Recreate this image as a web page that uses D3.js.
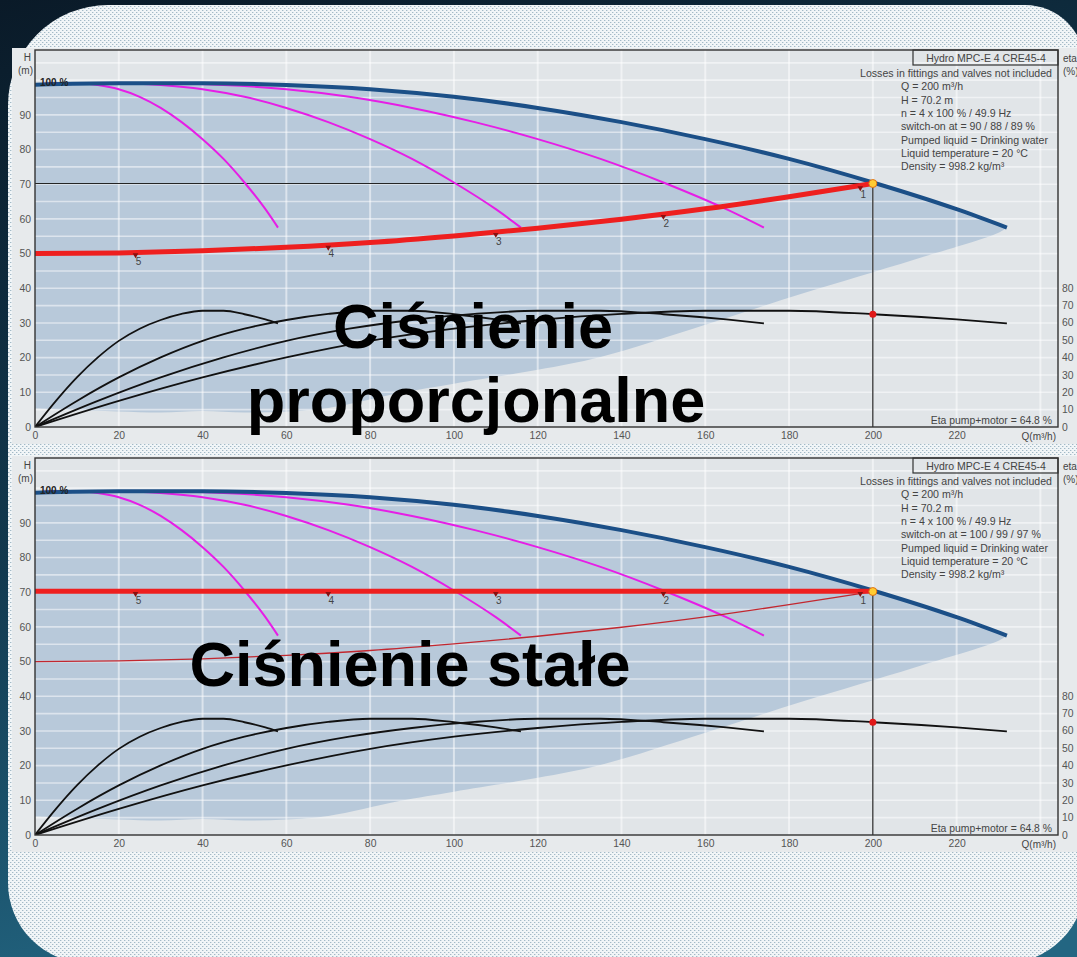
<!DOCTYPE html>
<html><head><meta charset="utf-8">
<script src="https://cdn.jsdelivr.net/npm/d3@7"></script>
<style>html,body{margin:0;padding:0;background:#0b1c2b;overflow:hidden}</style>
</head><body>
<svg id="c" width="1077" height="957" xmlns="http://www.w3.org/2000/svg"></svg>
<script>
// ---------- data ----------
const qTicks = [0,20,40,60,80,100,120,140,160,180,200,220];
const hTicks = [0,10,20,30,40,50,60,70,80,90];
const etaTicks = [0,10,20,30,40,50,60,70,80];
const hGrid = [5,10,15,20,25,30,35,40,45,50,55,60,65,70,75,80,85,90,95,100,105];
const qGrid = [20,40,60,80,100,120,140,160,180,200,220,240];

// pump curves, 4 / 3 / 2 / 1 pumps at 100 %
const q4 = [0,20,40,60,80,100,120,140,160,180,200,220,232];
const h4 = [98.7,99.1,99.1,98.6,97.4,95.2,92,87.9,83,77.3,70.5,62.8,57.5];
const q3 = [0,15,30,45,60,75,90,105,120,135,150,165,174];
const h3 = [98.7,99.1,99.1,98.6,97.4,95.2,92,87.9,83,77.3,70.5,62.8,57.5];
const q2 = [0,10,20,30,40,50,60,70,80,90,100,110,116];
const h2 = [98.7,99.1,99.1,98.6,97.4,95.2,92,87.9,83,77.3,70.5,62.8,57.5];
const q1 = [0,5,10,15,20,25,30,35,40,45,50,55,58];
const h1 = [98.7,99.1,99.1,98.6,97.4,95.2,92,87.9,83,77.3,70.5,62.8,57.5];

// efficiency curves (eta %, right axis)
const e1 = [0,15,28.5,40,49.5,56.5,61.5,65,66.8,66.8,64.8,61.8,59.5];
const e2 = [0,15,28.5,40,49.5,56.5,61.5,65,66.8,66.8,64.8,61.8,59.5];
const e3 = [0,15,28.5,40,49.5,56.5,61.5,65,66.8,66.8,64.8,61.8,59.5];
const e4 = [0,15,28.5,40,49.5,56.5,61.5,65,66.8,66.8,64.8,61.8,59.5];

// lower edge of the operating range (shaded area)
const lowQ = [0,10,20,30,40,50,60,70,87,100,120,135,160,183,210,230,232];
const lowH = [5.3,4.8,4.5,4.2,4.6,4.2,4.5,5.5,9.8,12.5,16.5,20.2,29.5,38.4,48.3,56,57.5];

// system (proportional pressure) curve
const sysQ = [0,20,40,60,80,100,120,140,160,180,200];
const sysH = [50,50.2,50.8,51.8,53.2,55.1,57.3,59.9,62.9,66.4,70.2];

// constant pressure set point
const constQ = [0,200];
const constH = [70.3,70.3];

const markQ = [24,70,110,150,197];
const markLbl = ["5","4","3","2","1"];

const dutyQ = 200, dutyH = 70.2, dutyEta = 64.8;

const legendTop = ["Losses in fittings and valves not included","Q = 200 m³/h","H = 70.2 m","n = 4 x 100 % / 49.9 Hz","switch-on at = 90 / 88 / 89  %","Pumped liquid = Drinking water","Liquid temperature = 20 °C","Density = 998.2 kg/m³"];
const legendBot = ["Losses in fittings and valves not included","Q = 200 m³/h","H = 70.2 m","n = 4 x 100 % / 49.9 Hz","switch-on at = 100 / 99 / 97  %","Pumped liquid = Drinking water","Liquid temperature = 20 °C","Density = 998.2 kg/m³"];
const title = "Hydro MPC-E 4 CRE45-4";
const etaNote = "Eta pump+motor = 64.8 %";

// ---------- drawing ----------
const svg = d3.select("#c");
const defs = svg.append("defs");
const bg = defs.append("linearGradient").attr("id","bg").attr("x1",0).attr("y1",0).attr("x2",0.3).attr("y2",1);
bg.append("stop").attr("offset","0%").attr("stop-color","#0a1a28");
bg.append("stop").attr("offset","55%").attr("stop-color","#123a50");
bg.append("stop").attr("offset","100%").attr("stop-color","#236682");
const pat = defs.append("pattern").attr("id","dots").attr("width",4).attr("height",4).attr("patternUnits","userSpaceOnUse");
pat.append("rect").attr("width",4).attr("height",4).attr("fill","#f1f5f7");
pat.append("rect").attr("x",0).attr("y",0).attr("width",1).attr("height",1).attr("fill","#a3b9c6");
pat.append("rect").attr("x",2).attr("y",2).attr("width",1).attr("height",1).attr("fill","#a3b9c6");
pat.append("rect").attr("x",1).attr("y",0).attr("width",1).attr("height",1).attr("fill","#d3dfe6");
pat.append("rect").attr("x",3).attr("y",2).attr("width",1).attr("height",1).attr("fill","#d3dfe6");

svg.append("rect").attr("width",1077).attr("height",957).attr("fill","url(#bg)");
svg.append("path")
  .attr("d","M 8,105 A 100 100 0 0 1 108,5 L 1025,5 A 60 60 0 0 1 1085,65 L 1085,883 A 80 80 0 0 1 1005,963 L 88,963 A 80 80 0 0 1 8,883 Z")
  .attr("fill","url(#dots)");

const FONT = "'Liberation Sans', Arial, sans-serif";

function drawChart(oy, cfg, idx) {
  const g = svg.append("g").attr("transform", `translate(0,${oy})`);
  const x = d3.scaleLinear([0,244.2],[35,1058]);
  const y = d3.scaleLinear([0,108.7],[427,50]);
  const ye = d3.scaleLinear([0,100],[427,253]);

  g.append("rect").attr("x",12).attr("y",48).attr("width",1075).attr("height",396).attr("fill","#e7eaec");

  const cid = "clip"+idx;
  defs.append("clipPath").attr("id",cid).append("rect")
    .attr("x",x(0)).attr("y",50).attr("width",x(244.2)-x(0)).attr("height",377);
  const p = g.append("g").attr("clip-path",`url(#${cid})`);

  p.append("rect").attr("x",x(0)).attr("y",50).attr("width",x(244.2)-x(0)).attr("height",377).attr("fill","#e1e5e8");

  const lineH = d3.line().x(d=>x(d[0])).y(d=>y(d[1])).curve(d3.curveMonotoneX);
  const lineE = d3.line().x(d=>x(d[0])).y(d=>ye(d[1])).curve(d3.curveMonotoneX);

  // shaded operating area
  const top = d3.zip(q4,h4);
  const low = d3.zip(lowQ,lowH).reverse();
  const lineR = d3.line().x(d=>x(d[0])).y(d=>y(d[1])).curve(d3.curveCatmullRom);
  const areaD = lineH(top) + "L" + lineR(low).slice(1) + "Z";
  p.append("path").attr("d", areaD).attr("fill","#b8c9da");

  // grid
  p.selectAll(".gh").data(hGrid).join("line")
    .attr("x1",x(0)).attr("x2",x(244.2)).attr("y1",d=>y(d)).attr("y2",d=>y(d))
    .attr("stroke","#ffffff").attr("stroke-opacity",0.5).attr("stroke-width",1.6);
  p.selectAll(".gv").data(qGrid).join("line")
    .attr("x1",d=>x(d)).attr("x2",d=>x(d)).attr("y1",50).attr("y2",427)
    .attr("stroke","#ffffff").attr("stroke-opacity",0.5).attr("stroke-width",2);

  // efficiency curves
  [[q1,e1],[q2,e2],[q3,e3],[q4,e4]].forEach(([q,e])=>{
    p.append("path").attr("d", lineE(d3.zip(q,e))).attr("fill","none")
      .attr("stroke","#111").attr("stroke-width",1.8);
  });

  // duty lines
  p.append("line").attr("x1",x(0)).attr("x2",x(dutyQ)).attr("y1",y(dutyH)).attr("y2",y(dutyH))
    .attr("stroke","#222").attr("stroke-width",1);
  p.append("line").attr("x1",x(dutyQ)).attr("x2",x(dutyQ)).attr("y1",y(dutyH)).attr("y2",y(0))
    .attr("stroke","#222").attr("stroke-width",1.2);

  // magenta single/multi pump curves
  [[q1,h1],[q2,h2],[q3,h3]].forEach(([q,h])=>{
    p.append("path").attr("d", lineH(d3.zip(q,h))).attr("fill","none")
      .attr("stroke","#e61ee6").attr("stroke-width",2);
  });
  // max curve
  p.append("path").attr("d", lineH(top)).attr("fill","none")
    .attr("stroke","#1b4f87").attr("stroke-width",4);

  // red curves
  const sys = d3.zip(sysQ,sysH);
  if (cfg.constant) {
    p.append("path").attr("d", lineH(sys)).attr("fill","none")
      .attr("stroke","#c2272f").attr("stroke-width",1.3);
    p.append("path").attr("d", lineH(d3.zip(constQ,constH))).attr("fill","none")
      .attr("stroke","#ee1f1f").attr("stroke-width",5);
  } else {
    p.append("path").attr("d", lineH(sys)).attr("fill","none")
      .attr("stroke","#ee1f1f").attr("stroke-width",5);
  }
  const hAt = q => cfg.constant ? constH[0] : d3.scaleLinear(sysQ, sysH)(q);
  const tri = d3.symbol().type(d3.symbolTriangle).size(14);
  markQ.forEach((q,i)=>{
    p.append("path").attr("d",tri()).attr("fill","#8a1010")
      .attr("transform",`translate(${x(q)},${y(hAt(q))+2.5}) rotate(180)`);
    g.append("text").attr("x",x(q)+3).attr("y",y(hAt(q))+12.5).attr("text-anchor","middle")
      .attr("font-family",FONT).attr("font-size",10).attr("fill","#444").text(markLbl[i]);
  });

  // duty points
  p.append("circle").attr("cx",x(dutyQ)).attr("cy",y(dutyH)).attr("r",4)
    .attr("fill","#ffcc33").attr("stroke","#e07010").attr("stroke-width",1);
  p.append("circle").attr("cx",x(dutyQ)).attr("cy",ye(dutyEta)).attr("r",3.5).attr("fill","#e01818");

  // frame
  g.append("rect").attr("x",x(0)).attr("y",50).attr("width",x(244.2)-x(0)).attr("height",377)
    .attr("fill","none").attr("stroke","#333").attr("stroke-width",1.4);

  // axes
  const styleAx = sel => {
    sel.select(".domain").remove();
    sel.selectAll("text").attr("font-family",FONT).attr("font-size",10.4).attr("fill","#555");
  };
  g.append("g").attr("transform",`translate(${x(0)},0)`)
    .call(d3.axisLeft(y).tickValues(hTicks).tickSize(0).tickPadding(4)).call(styleAx);
  g.append("g").attr("transform",`translate(0,${y(0)})`)
    .call(d3.axisBottom(x).tickValues(qTicks).tickSize(0).tickPadding(5)).call(styleAx);
  g.append("g").attr("transform",`translate(${x(244.2)},0)`)
    .call(d3.axisRight(ye).tickValues(etaTicks).tickSize(0).tickPadding(4)).call(styleAx);

  const txt = (tx,ty,s,anchor,fs) => g.append("text").attr("x",tx).attr("y",ty).attr("text-anchor",anchor||"start")
      .attr("font-family",FONT).attr("font-size",fs||10).attr("fill","#444").text(s);
  txt(31,61,"H","end"); txt(33,74,"(m)","end");
  txt(1063,62,"eta"); txt(1063,75,"(%)");
  txt(1056,440,"Q(m³/h)","end");
  txt(1052,424,etaNote,"end",10.4);
  g.append("text").attr("x",40).attr("y",86).attr("font-family",FONT).attr("font-size",10)
    .attr("font-weight","bold").attr("fill","#222").text("100 %");

  // legend
  g.append("rect").attr("x",913).attr("y",50).attr("width",x(244.2)-913).attr("height",15)
    .attr("fill","none").attr("stroke","#333").attr("stroke-width",1.2);
  txt(986,62,title,"middle",10.5);
  cfg.legend.forEach((s,i)=>{
    if (i===0) txt(1052,77,s,"end",10.6);
    else txt(901,77+13.3*i,s,"start",10.6);
  });
}

drawChart(0, {constant:false, legend:legendTop}, 0);
drawChart(408, {constant:true, legend:legendBot}, 1);

// overlay captions
const cap = (tx,ty,s) => svg.append("text").attr("x",tx).attr("y",ty).attr("text-anchor","middle")
  .attr("font-family",FONT).attr("font-weight","bold").attr("font-size",63).attr("fill","#000").text(s);
cap(473,348,"Ciśnienie");
cap(476,422,"proporcjonalne");
cap(410,686,"Ciśnienie stałe");
</script>
</body></html>
